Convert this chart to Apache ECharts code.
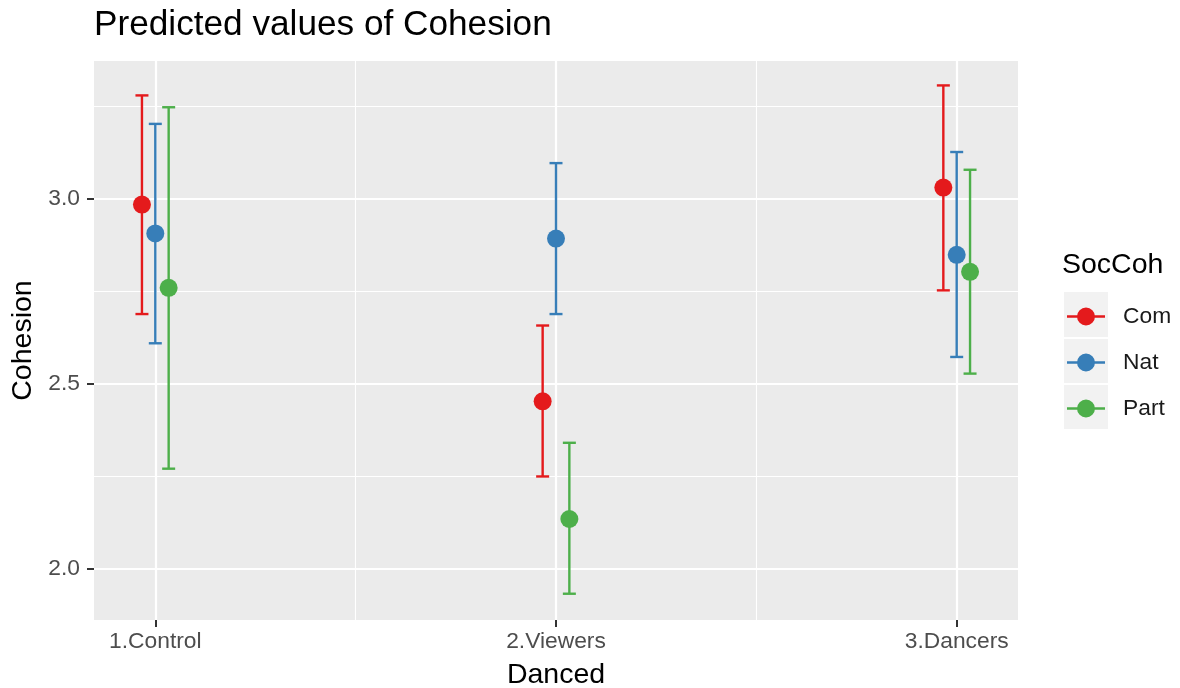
<!DOCTYPE html>
<html>
<head>
<meta charset="utf-8">
<script src="https://cdn.jsdelivr.net/npm/echarts@6/dist/echarts.min.js"></script>
<style>html,body{margin:0;padding:0;background:#fff}#c{width:1180px;height:688px}</style>
</head>
<body>
<div id="c"></div>
<script>
// ---- data ----
const categories = ['1.Control', '2.Viewers', '3.Dancers'];
const groups = ['Com', 'Nat', 'Part'];
const comFit = [2.985, 2.453, 3.031];
const comLo  = [2.689, 2.250, 2.753];
const comHi  = [3.280, 2.658, 3.307];
const natFit = [2.907, 2.893, 2.849];
const natLo  = [2.610, 2.689, 2.573];
const natHi  = [3.203, 3.097, 3.127];
const partFit = [2.760, 2.135, 2.803];
const partLo  = [2.271, 1.933, 2.528];
const partHi  = [3.248, 2.341, 3.079];
const yTicks = [2.0, 2.5, 3.0];
const yMinor = [2.25, 2.75, 3.25];

// ---- layout / style ----
const colors = ['#E41A1C', '#377EB8', '#4DAF4A'];
const DODGE = 0.1 / 3;
const FONT = '"Liberation Sans", Arial, Helvetica, sans-serif';
const fits = [comFit, natFit, partFit];
const los = [comLo, natLo, partLo];
const his = [comHi, natHi, partHi];
const xPos = categories.map((c, i) => i + 1);
const xMinor = [1.5, 2.5];

const series = [];
// gridlines
series.push({
  type: 'scatter', name: '_grid', data: [], silent: true, z: 0,
  markLine: {
    silent: true, symbol: 'none', label: {show: false}, animation: false, z: 0,
    data: [
      ...yTicks.map(v => ({yAxis: v, lineStyle: {color: '#fff', width: 2.2, type: 'solid'}})),
      ...yMinor.map(v => ({yAxis: v, lineStyle: {color: '#fff', width: 1.1, type: 'solid'}})),
      ...xPos.map(v => ({xAxis: v, lineStyle: {color: '#fff', width: 2.2, type: 'solid'}})),
      ...xMinor.map(v => ({xAxis: v, lineStyle: {color: '#fff', width: 1.1, type: 'solid'}}))
    ]
  }
});

groups.forEach((g, gi) => {
  const off = (gi - 1) * DODGE;
  series.push({
    type: 'custom', name: g, z: 10,
    itemStyle: {color: colors[gi]},
    data: xPos.map((x, i) => [x + off, los[gi][i], his[gi][i]]),
    renderItem: function (params, api) {
      const x = api.value(0), lo = api.value(1), hi = api.value(2);
      const p1 = api.coord([x, lo]), p2 = api.coord([x, hi]);
      const hw = 6.5;
      const st = {stroke: colors[gi], lineWidth: 2.4};
      return {type: 'group', children: [
        {type: 'line', shape: {x1: p1[0], y1: p1[1], x2: p2[0], y2: p2[1]}, style: st},
        {type: 'line', shape: {x1: p1[0] - hw, y1: p1[1], x2: p1[0] + hw, y2: p1[1]}, style: st},
        {type: 'line', shape: {x1: p2[0] - hw, y1: p2[1], x2: p2[0] + hw, y2: p2[1]}, style: st}
      ]};
    }
  });
  series.push({
    type: 'scatter', name: g, z: 11,
    symbol: 'circle', symbolSize: 18,
    itemStyle: {color: colors[gi], opacity: 1},
    data: xPos.map((x, i) => [x + off, fits[gi][i]])
  });
});

const iconPath = 'path://M0,7.8H38V10.2H0Z M19,0A9,9 0 1,1 18.99,0Z';

const option = {
  animation: false,
  textStyle: {fontFamily: FONT},
  title: [
    {text: 'Predicted values of Cohesion', left: 94, top: 8, padding: 0,
     textStyle: {fontSize: 35.2, fontWeight: 'normal', color: '#000', fontFamily: FONT}},
    {text: 'SocCoh', left: 1062, top: 251, padding: 0,
     textStyle: {fontSize: 28.5, fontWeight: 'normal', color: '#000', fontFamily: FONT}}
  ],
  graphic: [
    {type: 'rect', shape: {x: 1064, y: 292, width: 44, height: 45}, style: {fill: '#F2F2F2'}, z: -1},
    {type: 'rect', shape: {x: 1064, y: 339, width: 44, height: 44}, style: {fill: '#F2F2F2'}, z: -1},
    {type: 'rect', shape: {x: 1064, y: 385, width: 44, height: 44}, style: {fill: '#F2F2F2'}, z: -1}
  ],
  legend: {
    orient: 'vertical', left: 1067, top: 305, padding: 0,
    itemWidth: 38, itemHeight: 18, itemGap: 23,
    data: groups.map((g, i) => ({name: g, icon: iconPath, itemStyle: {color: colors[i]}})),
    textStyle: {fontSize: 22.8, color: '#1a1a1a', fontFamily: FONT, lineHeight: 18, padding: [0, 0, 0, 13]},
    selectedMode: false
  },
  grid: {left: 94, right: 162, top: 61, bottom: 68, show: true, backgroundColor: '#EBEBEB', borderWidth: 0,
    containLabel: false, outerBoundsMode: 'none'},
  xAxis: {
    type: 'value', min: 0.847, max: 3.153,
    name: 'Danced', nameLocation: 'middle', nameGap: 41,
    nameTextStyle: {fontSize: 28.5, color: '#000', fontFamily: FONT},
    axisLine: {show: false},
    axisTick: {show: true, customValues: xPos, length: 7, lineStyle: {color: '#333', width: 2}},
    axisLabel: {show: true, customValues: xPos, margin: 10, fontSize: 22.8, color: '#4D4D4D', fontFamily: FONT,
      formatter: v => categories[Math.round(v) - 1]},
    splitLine: {show: false}
  },
  yAxis: {
    type: 'value', min: 1.862, max: 3.373,
    name: 'Cohesion', nameLocation: 'middle', nameGap: 55, nameRotate: 90,
    nameTextStyle: {fontSize: 28.5, color: '#000', fontFamily: FONT},
    axisLine: {show: false},
    axisTick: {show: true, customValues: yTicks, length: 7, lineStyle: {color: '#333', width: 2}},
    axisLabel: {show: true, customValues: yTicks, margin: 14, fontSize: 22.8, color: '#4D4D4D', fontFamily: FONT,
      formatter: v => v.toFixed(1)},
    splitLine: {show: false}
  },
  series: series
};

const chart = echarts.init(document.getElementById('c'), null, {renderer: 'canvas'});
chart.setOption(option);
</script>
</body>
</html>
